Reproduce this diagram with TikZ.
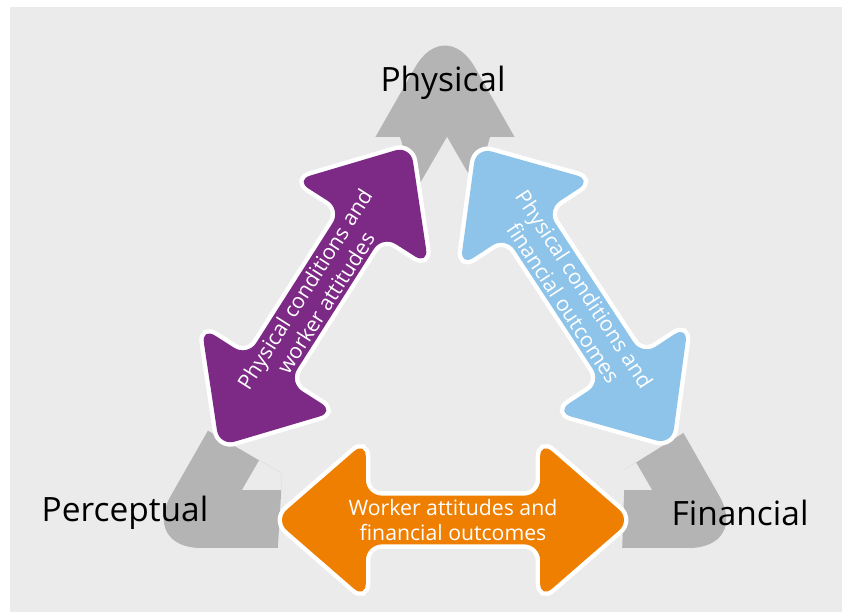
\documentclass[tikz,border=0pt]{standalone}
\usepackage{fontspec}
\setmainfont{Open Sans}
\usetikzlibrary{shapes.arrows}

\definecolor{bggray}{RGB}{235,235,235}
\definecolor{bandgray}{RGB}{180,180,180}
\definecolor{linkpurple}{RGB}{125,41,134}
\definecolor{linkblue}{RGB}{142,196,234}
\definecolor{linkorange}{RGB}{238,127,0}

\begin{document}
\begin{tikzpicture}[x=0.025cm, y=0.025cm,
  link/.style={double arrow, double arrow tip angle=82, double arrow head extend=1.175cm,
    minimum height=8.9cm, minimum width=3.95cm, inner sep=0pt, rounded corners=0.4cm,
    fill=#1, text=white, align=center, font=\fontsize{15.1}{17.8}\selectfont,
    preaction={draw=white, line width=0.22cm}},
  corner/.style={font=\fontsize{23.8}{28}\selectfont, text=black},
]
\useasboundingbox (0,0) rectangle (842,612);

% --- Background ---
\fill[white] (0,0) rectangle (842,612);
\fill[bggray] (10,0) rectangle (842,605);

% --- Grey triangle, only its three corners are kept ---
\begin{scope}
  \clip (300,612) -- (600,612) -- (600,475) -- (490,475) -- (472,412) -- (420,412) -- (400,475) -- (300,475) -- cycle
        (0,302) -- (281,139) -- (281,117) -- (274,0) -- (0,0) -- cycle
        (842,278) -- (624,142) -- (624,117) -- (620,0) -- (842,0) -- cycle;
  \fill[bandgray, rounded corners=1.5cm] (445,597) -- (141,64) -- (749,64) -- cycle;
  \fill[bggray] (447,475) -- (242,122) -- (652,122) -- cycle;
\end{scope}

% --- Two-way links ---
\node[link=linkpurple, rotate=57.5] (condatt) at (315,316) {Physical conditions and\\worker attitudes};
\node[link=linkblue, rotate=-56.7] (condfin) at (574,316) {Physical conditions and\\financial outcomes};
\node[link=linkorange] (attfin) at (453,92) {Worker attitudes and\\financial outcomes};

% --- Corner labels ---
\node[corner] (phys) at (443,529) {Physical};
\node[corner] (perc) at (125,99) {Perceptual};
\node[corner] (fin) at (740,99) {Financial};

\end{tikzpicture}
\end{document}
